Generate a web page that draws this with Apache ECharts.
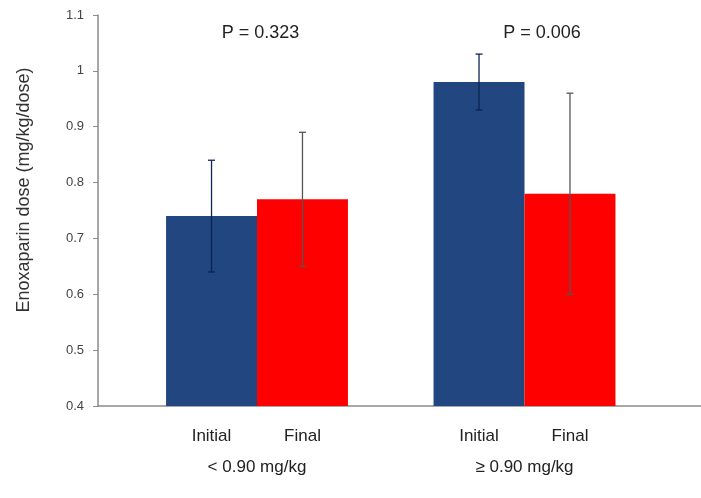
<!DOCTYPE html>
<html><head><meta charset="utf-8">
<script src="https://cdn.jsdelivr.net/npm/echarts@6/dist/echarts.min.js"></script>
<style>html,body{margin:0;padding:0;background:#fff}#c{width:701px;height:498px}</style>
</head><body><div id="c"></div>
<script>
var groups = ['< 0.90 mg/kg', '≥ 0.90 mg/kg'];
var seriesNames = ['Initial', 'Final'];
var initialMean = [0.74, 0.98];
var initialSD = [0.10, 0.05];
var finalMean = [0.77, 0.78];
var finalSD = [0.12, 0.18];
var pValues = ['P = 0.323', 'P = 0.006'];
var yTicksMin = 0.4, yTicksMax = 1.1, yTickStep = 0.1;

var FONT = 'Liberation Sans, Arial, sans-serif';
var chart = echarts.init(document.getElementById('c'));
var BW = 0.34;

function errRender(sign, color) {
  return function (params, api) {
    var cat = api.value(0), m = api.value(1), e = api.value(2);
    var c = api.coord([cat, m]);
    var bw = api.size([1, 0])[0] * BW;
    var x = c[0] + sign * bw / 2;
    var yt = api.coord([cat, m + e])[1];
    var yb = api.coord([cat, m - e])[1];
    var cap = 3.5;
    var st = { stroke: color, lineWidth: 1.3 };
    return { type: 'group', children: [
      { type: 'line', shape: { x1: x, y1: yt, x2: x, y2: yb }, style: st },
      { type: 'line', shape: { x1: x - cap, y1: yt, x2: x + cap, y2: yt }, style: st },
      { type: 'line', shape: { x1: x - cap, y1: yb, x2: x + cap, y2: yb }, style: st }
    ]};
  };
}

var option = {
  animation: false,
  textStyle: { fontFamily: FONT },
  grid: [
    { left: 123.25, right: 42.75, top: 15, bottom: 92 },
    { left: 98, right: 0, top: 15, bottom: 92 }
  ],
  xAxis: [
    { type: 'category', gridIndex: 0, data: groups,
      axisLine: { show: false }, axisTick: { show: false },
      axisLabel: { margin: 20, interval: 0,
        formatter: function (v) { return '{a|' + seriesNames[0] + '}{b|' + seriesNames[1] + '}\n{c|' + v + '}'; },
        rich: {
          a: { width: 91, align: 'center', fontSize: 17, lineHeight: 20, color: '#222', fontFamily: FONT },
          b: { width: 91, align: 'center', fontSize: 17, lineHeight: 20, color: '#222', fontFamily: FONT },
          c: { width: 182, align: 'center', fontSize: 17, lineHeight: 42, color: '#222', fontFamily: FONT }
        }
      }
    },
    { type: 'value', gridIndex: 1, min: 0, max: 1,
      axisLine: { show: true, lineStyle: { color: '#8a8a8a', width: 1.5 } },
      axisTick: { show: false }, axisLabel: { show: false }, splitLine: { show: false } }
  ],
  yAxis: [
    { type: 'value', gridIndex: 0, min: yTicksMin, max: yTicksMax, interval: yTickStep,
      show: false, splitLine: { show: false } },
    { type: 'value', gridIndex: 1, min: yTicksMin, max: yTicksMax, interval: yTickStep,
      axisLine: { show: true, lineStyle: { color: '#8a8a8a', width: 1.5 } },
      axisTick: { show: true, length: 5, lineStyle: { color: '#8a8a8a' } },
      splitLine: { show: false },
      axisLabel: { margin: 14, fontSize: 13, color: '#444', fontFamily: FONT,
        formatter: function (v) { return String(Math.round(v * 10) / 10); } }
    }
  ],
  series: [
    { name: seriesNames[0], type: 'bar', xAxisIndex: 0, yAxisIndex: 0, data: initialMean,
      barWidth: (BW * 100) + '%', barGap: '0%', itemStyle: { color: '#22467f' },
      markPoint: { symbolSize: 0, silent: true,
        label: { show: true, color: '#222', fontSize: 18, fontFamily: FONT, position: 'inside' },
        data: [
          { coord: [0, 1.067], value: pValues[0], label: { formatter: pValues[0], offset: [49, 0] } },
          { coord: [1, 1.067], value: pValues[1], label: { formatter: pValues[1], offset: [63, 0] } }
        ] } },
    { name: seriesNames[1], type: 'bar', xAxisIndex: 0, yAxisIndex: 0, data: finalMean,
      barWidth: (BW * 100) + '%', barGap: '0%', itemStyle: { color: '#ff0000' } },
    { type: 'custom', xAxisIndex: 0, yAxisIndex: 0, z: 5,
      renderItem: errRender(-1, '#0d2452'),
      data: initialMean.map(function (m, i) { return [i, m, initialSD[i]]; }) },
    { type: 'custom', xAxisIndex: 0, yAxisIndex: 0, z: 5,
      renderItem: errRender(1, '#555555'),
      data: finalMean.map(function (m, i) { return [i, m, finalSD[i]]; }) }
  ],
  graphic: [
    { type: 'text', x: 24, y: 190, rotation: Math.PI / 2,
      style: { text: 'Enoxaparin dose (mg/kg/dose)', fontSize: 18, fontFamily: FONT, fill: '#333',
        textAlign: 'center', textVerticalAlign: 'middle' } }
  ]
};
chart.setOption(option);
</script></body></html>
